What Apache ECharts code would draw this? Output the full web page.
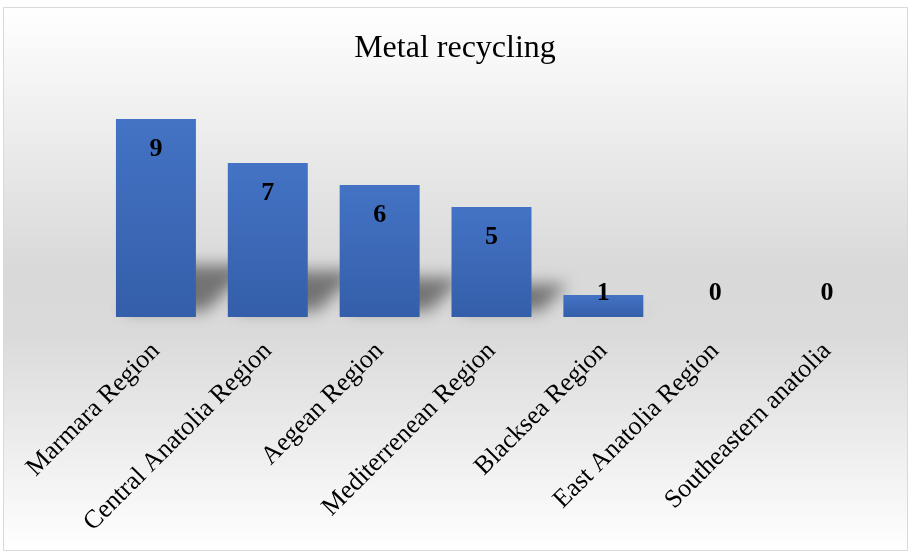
<!DOCTYPE html>
<html>
<head>
<meta charset="utf-8">
<style>
  html, body { margin: 0; padding: 0; background: #ffffff; }
  #chart { width: 910px; height: 553px; }
</style>
<script src="https://cdn.jsdelivr.net/npm/echarts@6/dist/echarts.min.js"></script>
</head>
<body>
<div id="chart"></div>
<script>
// Number of metal recycling facilities by region
const regions = [
  'Marmara Region',
  'Central Anatolia Region',
  'Aegean Region',
  'Mediterrenean Region',
  'Blacksea Region',
  'East Anatolia Region',
  'Southeastern anatolia'
];
const counts = [9, 7, 6, 5, 1, 0, 0];
const chartTitle = 'Metal recycling';

const serif = '"Liberation Serif", "Times New Roman", serif';

const chart = echarts.init(document.getElementById('chart'), null, { renderer: 'canvas' });

// Short bars keep their value label just above the baseline
const barData = counts.map(v => ({
  value: v,
  label: v <= 1 ? { position: 'insideBottom', distance: 11 } : { position: 'insideTop', distance: 17 }
}));

// Soft perspective shadow falling behind and to the right of each bar foot.
// The shape is drawn far off-canvas and only its blurred shadow is shifted back in.
const SHIFT = 4000;
function renderShadow(params, api) {
  const idx = api.value(0);
  const val = api.value(1);
  if (!val) return null;
  const base = api.coord([idx, 0]);
  const top = api.coord([idx, val]);
  const barH = base[1] - top[1];
  const size = api.size([1, 0]);
  const bw = size[0] * 0.715;
  const x0 = base[0] - bw / 2;
  const x1 = base[0] + bw / 2;
  const h = Math.min(barH * 0.3, 52);
  const dx = h * 1.1;
  const pts = [
    [x0 + 6, base[1] - 6],
    [x1 + 10, base[1] - 6],
    [x1 + dx, base[1] - h],
    [x0 + dx, base[1] - h]
  ].map(p => [p[0] + SHIFT, p[1]]);
  return {
    type: 'polygon',
    shape: { points: pts },
    style: {
      fill: '#000000',
      shadowBlur: 16,
      shadowOffsetX: -SHIFT,
      shadowOffsetY: 0,
      shadowColor: 'rgba(80,80,80,0.75)'
    }
  };
}

chart.setOption({
  animation: false,
  backgroundColor: '#ffffff',
  graphic: [{
    type: 'rect',
    z: -10,
    shape: { x: 3.5, y: 7.5, width: 904, height: 543 },
    style: {
      fill: new echarts.graphic.LinearGradient(0, 0, 0, 1, [
        { offset: 0, color: '#ffffff' },
        { offset: 0.48, color: '#d9d9d9' },
        { offset: 0.6, color: '#dadada' },
        { offset: 1, color: '#ffffff' }
      ]),
      stroke: '#d9d9d9',
      lineWidth: 1
    }
  }],
  title: {
    text: chartTitle,
    left: 'center',
    top: 28,
    textStyle: { fontFamily: serif, fontSize: 32, fontWeight: 'normal', color: '#000000' }
  },
  grid: { left: 100, right: 27, top: 97, bottom: 236, containLabel: false },
  xAxis: {
    type: 'category',
    data: regions,
    axisLine: { show: false },
    axisTick: { show: false },
    axisLabel: {
      rotate: 45,
      interval: 0,
      margin: 30,
      fontFamily: serif,
      fontSize: 26,
      color: '#000000'
    }
  },
  yAxis: {
    type: 'value',
    min: 0,
    max: 10,
    show: false,
    splitLine: { show: false }
  },
  series: [
    {
      type: 'custom',
      silent: true,
      z: 1,
      clip: false,
      renderItem: renderShadow,
      data: counts.map((v, i) => [i, v])
    },
    {
      type: 'bar',
      z: 2,
      data: barData,
      barWidth: '71.5%',
      itemStyle: {
        color: new echarts.graphic.LinearGradient(0, 0, 0, 1, [
          { offset: 0, color: '#4473c5' },
          { offset: 1, color: '#345ea9' }
        ])
      },
      label: {
        show: true,
        fontFamily: serif,
        fontSize: 26,
        fontWeight: 'bold',
        color: '#000000'
      }
    }
  ]
});
</script>
</body>
</html>
